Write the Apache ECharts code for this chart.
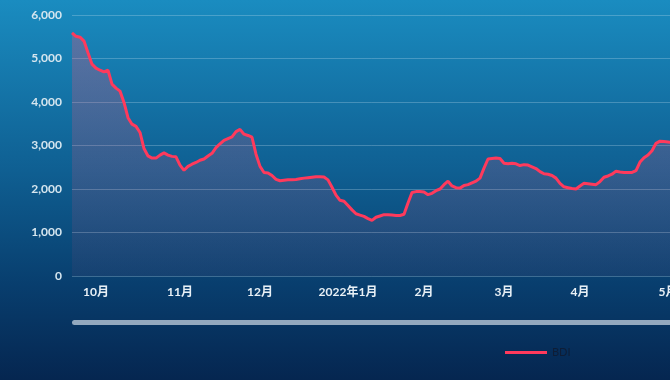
<!DOCTYPE html>
<html><head><meta charset="utf-8">
<script src="https://cdn.jsdelivr.net/npm/echarts@6/dist/echarts.min.js"></script>
<style>html,body{margin:0;padding:0;}#c{width:670px;height:380px;}</style>
</head><body><div id="c"></div>
<script>
// BDI daily values (one point per trading day)
const bdiValues = [
5590,5510,5490,5400,5130,4870,4780,4730,4690,4730,
4410,4320,4250,3990,3640,3490,3440,3300,2930,2760,
2710,2710,2780,2830,2780,2750,2740,2550,2430,2520,
2570,2610,2660,2690,2760,2820,2950,3040,3120,3160,
3200,3320,3370,3260,3230,3190,2800,2520,2380,2370,
2310,2220,2190,2200,2210,2215,2220,2235,2250,2260,
2270,2280,2280,2275,2210,2040,1860,1740,1720,1620,
1520,1430,1400,1370,1320,1280,1350,1380,1410,1410,
1400,1390,1390,1420,1680,1920,1940,1940,1930,1870,
1900,1960,2000,2100,2180,2070,2030,2020,2080,2100,
2140,2180,2250,2480,2690,2700,2710,2700,2590,2580,
2590,2580,2540,2560,2550,2510,2470,2400,2350,2340,
2310,2250,2130,2050,2030,2010,2000,2070,2130,2120,
2110,2100,2170,2270,2300,2340,2410,2390,2380,2380,
2380,2420,2620,2720,2780,2880,3050,3100,3090,3080,
3070,3060
];
const categories = bdiValues.map((_, i) => 'd' + i);
// month tick labels: [category index, text]
const monthTicks = [[6,'10月'],[27,'11月'],[47,'12月'],[69,'2022年1月'],[88,'2月'],[108,'3月'],[127,'4月'],[149,'5月']];
const yTicks = [0,1000,2000,3000,4000,5000,6000];
const seriesName = 'BDI';

const tickMap = {};
monthTicks.forEach(t => tickMap[t[0]] = t[1]);

const chart = echarts.init(document.getElementById('c'), null, {renderer:'canvas'});
chart.setOption({
  animation:false,
  backgroundColor:{type:'linear',x:0,y:0,x2:0,y2:1,colorStops:[
    {offset:0,color:'#1a8cc0'},{offset:0.45,color:'#0f5f92'},{offset:0.75,color:'#083e6e'},{offset:1,color:'#052650'}]},
  textStyle:{fontFamily:'Lato, "Noto Sans CJK SC", sans-serif'},
  grid:{left:72,top:15,height:261,width:604,containLabel:false,outerBoundsMode:'none'},
  xAxis:{type:'category',data:categories,boundaryGap:false,
    axisLine:{show:false},axisTick:{show:false},splitLine:{show:false},
    axisLabel:{color:'#e8f0f6',fontSize:12,fontWeight:'bold',margin:10,
      interval:(idx)=>tickMap[idx]!==undefined,
      formatter:(v,idx)=>tickMap[idx]||''}},
  yAxis:{type:'value',min:yTicks[0],max:yTicks[yTicks.length-1],interval:1000,
    axisLine:{show:false},axisTick:{show:false},
    splitLine:{lineStyle:{color:'rgba(200,225,240,0.28)',width:1}},
    axisLabel:{color:'#d6e6ef',fontSize:12,fontWeight:'bold',margin:10,
      formatter:v=>v.toLocaleString('en-US')}},
  legend:{data:[seriesName],left:500,top:342,icon:'rect',itemWidth:42,itemHeight:3,itemGap:6,
    textStyle:{color:'#0e1d36',fontSize:11,fontFamily:'Lato, sans-serif'}},
  graphic:[{type:'rect',shape:{x:72,y:320,width:610,height:5,r:2.5},style:{fill:'#93a9bf'},silent:true}],
  series:[{name:seriesName,type:'line',data:bdiValues,showSymbol:false,symbol:'none',
    lineStyle:{color:'#ff3a5c',width:3},itemStyle:{color:'#ff3a5c'},
    areaStyle:{color:{type:'linear',x:0,y:0,x2:0,y2:1,colorStops:[
      {offset:0,color:'rgba(235,80,120,0.45)'},{offset:1,color:'rgba(235,80,120,0.08)'}]}}}]
});
</script></body></html>
